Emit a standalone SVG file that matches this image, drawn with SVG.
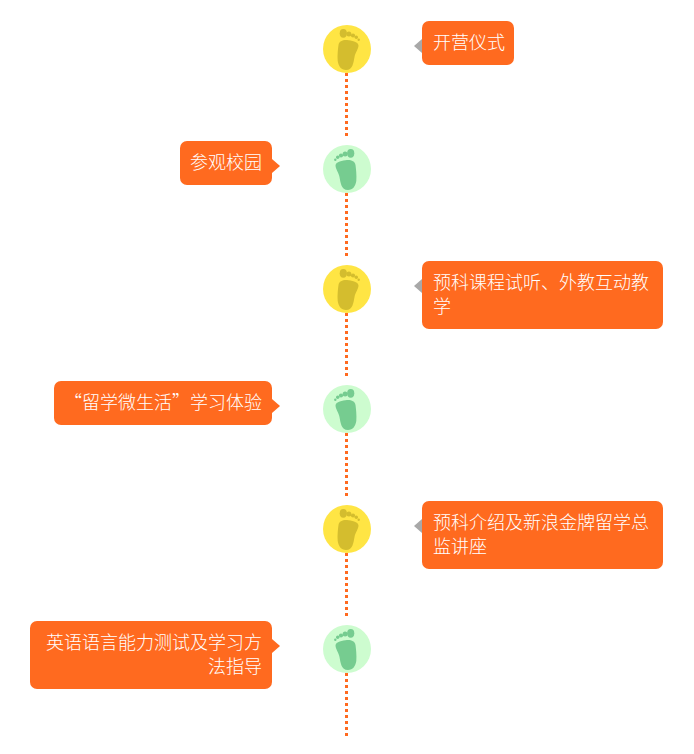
<svg xmlns="http://www.w3.org/2000/svg" width="694" height="754" viewBox="0 0 694 754">
<style>
.bg{fill:#ffffff}
.box{fill:#ff6a1f}
.ar{fill:#ff6a1f}
.ag{fill:#a8a8a8}
.t{fill:#ffffff;font:300 18px "Noto Sans CJK SC","Liberation Sans",sans-serif}
.e{text-anchor:end}
.dash{stroke:#ff6a1f;stroke-width:3;stroke-dasharray:3 3;fill:none}
.cy{fill:#ffe544}.fy{fill:#d4bd2e}
.cg{fill:#cdfccf}.fg{fill:#76cc90}
</style>
<defs>
<g id="foot">
<path d="M-8.5 -4 C-8 -8 -4 -9.3 0 -9 C4 -8.5 11.5 -7.5 11.5 -3.5 C11.300 0.500 8.500 3 7.500 8 C6.500 13 6 21 -1 21 C-6 21 -8.500 17 -9.300 12 C-9.800 6 -9 0 -8.500 -4Z"/>
<ellipse cx="-3.700" cy="-15.700" rx="3.600" ry="4.400"/>
<circle cx="1.900" cy="-15" r="2.500"/>
<circle cx="6" cy="-13.500" r="2.100"/>
<circle cx="9.300" cy="-11.700" r="1.700"/>
<circle cx="11.700" cy="-9.300" r="1.200"/>
</g>
</defs>
<rect class="bg" width="694" height="754"/>
<g id="connectors">
<path class="dash" d="M346.500 73V137M346.500 193V257M346.500 313V377M346.500 433V497M346.500 553V617M346.500 673V737"/>
</g>
<g id="node1">
<circle class="cy" cx="347" cy="49" r="24"/><use href="#foot" class="fy" x="347" y="49"/>
<path class="ag" d="M422 39L414 46L422 53Z"/><rect class="box" x="422" y="21" width="92" height="44" rx="7"/>
<text class="t" x="433" y="49">开营仪式</text>
</g>
<g id="node2">
<circle class="cg" cx="347" cy="169" r="24"/><use href="#foot" class="fg" transform="translate(347 169) scale(-1 1)"/>
<path class="ar" d="M272 159L280 166L272 173Z"/><rect class="box" x="180" y="141" width="92" height="44" rx="7"/>
<text class="t e" x="262" y="169">参观校园</text>
</g>
<g id="node3">
<circle class="cy" cx="347" cy="289" r="24"/><use href="#foot" class="fy" x="347" y="289"/>
<path class="ag" d="M422 279L414 286L422 293Z"/><rect class="box" x="422" y="261" width="241" height="68" rx="7"/>
<text class="t" x="433" y="289">预科课程试听、外教互动教</text>
<text class="t" x="433" y="313">学</text>
</g>
<g id="node4">
<circle class="cg" cx="347" cy="409" r="24"/><use href="#foot" class="fg" transform="translate(347 409) scale(-1 1)"/>
<path class="ar" d="M272 399L280 406L272 413Z"/><rect class="box" x="54" y="381" width="218" height="44" rx="7"/>
<text class="t e" x="262" y="409">“留学微生活”学习体验</text>
</g>
<g id="node5">
<circle class="cy" cx="347" cy="529" r="24"/><use href="#foot" class="fy" x="347" y="529"/>
<path class="ag" d="M422 519L414 526L422 533Z"/><rect class="box" x="422" y="501" width="241" height="68" rx="7"/>
<text class="t" x="433" y="529">预科介绍及新浪金牌留学总</text>
<text class="t" x="433" y="553">监讲座</text>
</g>
<g id="node6">
<circle class="cg" cx="347" cy="649" r="24"/><use href="#foot" class="fg" transform="translate(347 649) scale(-1 1)"/>
<path class="ar" d="M272 639L280 646L272 653Z"/><rect class="box" x="30" y="621" width="242" height="68" rx="7"/>
<text class="t e" x="262" y="649">英语语言能力测试及学习方</text>
<text class="t e" x="262" y="673">法指导</text>
</g>
</svg>
